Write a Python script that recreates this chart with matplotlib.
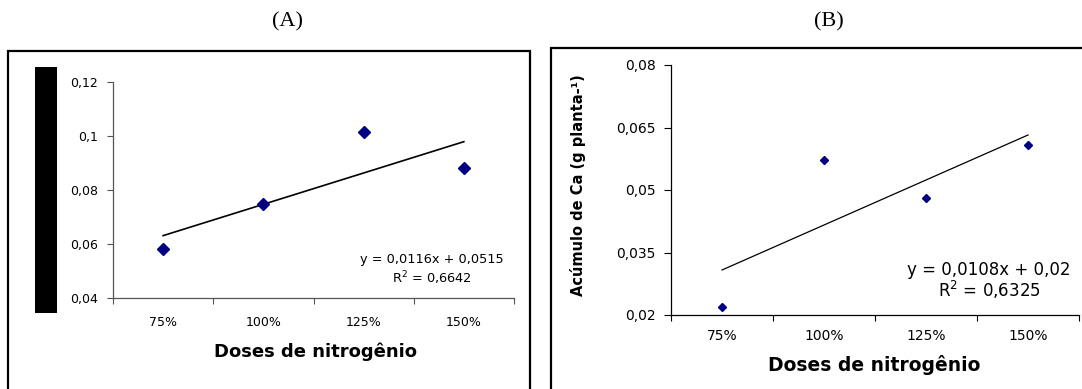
import matplotlib
matplotlib.use("Agg")
import matplotlib.pyplot as plt
from matplotlib.patches import Rectangle

# Nitrogen doses (categories) and accumulation values per panel
doses = ["75%", "100%", "125%", "150%"]
values_a = [0.0582, 0.0749, 0.1016, 0.0882]
values_b = [0.0219, 0.0572, 0.0482, 0.0609]

# Linear trend coefficients (y = slope*x + intercept, x = 1..4)
slope_a, intercept_a, r2_a = 0.0116, 0.0515, 0.6642
slope_b, intercept_b, r2_b = 0.0108, 0.02, 0.6325

yticks_a = [0.04, 0.06, 0.08, 0.10, 0.12]
yticklabels_a = ["0,04", "0,06", "0,08", "0,1", "0,12"]
yticks_b = [0.02, 0.035, 0.05, 0.065, 0.08]
yticklabels_b = ["0,02", "0,035", "0,05", "0,065", "0,08"]

W, H = 1082, 389
fig = plt.figure(figsize=(W / 100, H / 100), dpi=100)
fig.patch.set_facecolor("white")
plt.rcParams["font.family"] = ["DejaVu Sans"]


def px_axes(left, top, right, bottom):
    return fig.add_axes([left / W, 1 - bottom / H, (right - left) / W, (bottom - top) / H])


def px(x, y):
    return x / W, 1 - y / H


# Panel frames
for x0, y0, x1, y1 in [(8, 51, 530, 420), (551, 48, 1100, 420)]:
    fig.patches.append(Rectangle(px(x0, y1), (x1 - x0) / W, (y1 - y0) / H,
                                 transform=fig.transFigure, fill=False,
                                 edgecolor="black", linewidth=1.6))

# Panel titles
fig.text(*px(287, 22), "(A)", ha="center", va="center", fontsize=16,
         family="Liberation Serif")
fig.text(*px(829, 22), "(B)", ha="center", va="center", fontsize=16,
         family="Liberation Serif")


def draw_panel(ax, values, slope, intercept, yticks, yticklabels,
               tick_fs, marker_size, line_w, spine_color):
    x = list(range(1, len(doses) + 1))
    ax.plot(x, values, linestyle="none", marker="D", markersize=marker_size,
            color="#000080", zorder=3)
    xs = [x[0], x[-1]]
    ax.plot(xs, [slope * v + intercept for v in xs], color="black",
            linewidth=line_w, zorder=2)
    ax.set_xlim(0.5, len(doses) + 0.5)
    ax.set_ylim(yticks[0], yticks[-1])
    ax.set_yticks(yticks)
    ax.set_yticklabels(yticklabels, fontsize=tick_fs)
    ax.set_xticks([i + 0.5 for i in range(len(doses) + 1)])
    ax.set_xticklabels([])
    ax.set_xticks(x, minor=True)
    ax.set_xticklabels(doses, minor=True, fontsize=tick_fs)
    ax.tick_params(axis="x", which="minor", length=0)
    ax.tick_params(axis="both", which="major", length=4, width=0.8,
                   color=spine_color)
    for s in ["top", "right"]:
        ax.spines[s].set_visible(False)
    for s in ["left", "bottom"]:
        ax.spines[s].set_color(spine_color)
        ax.spines[s].set_linewidth(0.9)
    ax.set_facecolor("none")


# Panel A
ax_a = px_axes(113, 82, 514, 298)
draw_panel(ax_a, values_a, slope_a, intercept_a, yticks_a, yticklabels_a,
           9, 6.4, 1.2, "#555555")
ax_a.tick_params(axis="x", which="minor", pad=13)
ax_a.tick_params(axis="y", pad=7)
fig.text(*px(432, 270), "y = {:.4f}x + {:.4f}\nR$^2$ = {:.4f}".format(
    slope_a, intercept_a, r2_a).replace(".", ","),
    ha="center", va="center", fontsize=9.3, multialignment="center",
    linespacing=1.25)
fig.text(*px(316, 352), "Doses de nitrogênio", ha="center", va="center",
         fontsize=13, fontweight="bold")
fig.patches.append(Rectangle(px(35, 313), 22 / W, (313 - 67) / H,
                             transform=fig.transFigure, facecolor="black",
                             edgecolor="none"))

# Panel B
ax_b = px_axes(671, 65, 1079, 315)
draw_panel(ax_b, values_b, slope_b, intercept_b, yticks_b, yticklabels_b,
           10, 4.4, 0.9, "black")
ax_b.tick_params(axis="x", which="minor", pad=10)
ax_b.tick_params(axis="y", pad=6, length=5)
fig.text(*px(989, 281), "y = {:.4f}x + {:.2f}\nR$^2$ = {:.4f}".format(
    slope_b, intercept_b, r2_b).replace(".", ","),
    ha="center", va="center", fontsize=12, multialignment="center",
    linespacing=1.0)
fig.text(*px(874, 365), "Doses de nitrogênio", ha="center", va="center",
         fontsize=13.5, fontweight="bold")
fig.text(*px(578, 185), "Acúmulo de Ca (g planta-¹)", ha="center",
         va="center", rotation=90, fontsize=10.5, fontweight="bold")

fig.savefig("out.png", dpi=100, facecolor="white")
